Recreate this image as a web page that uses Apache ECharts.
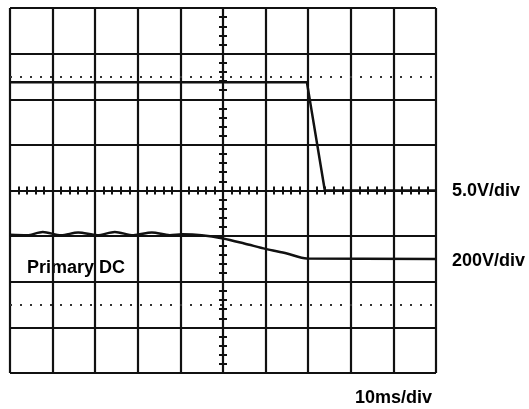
<!DOCTYPE html>
<html>
<head>
<meta charset="utf-8">
<script src="https://cdn.jsdelivr.net/npm/echarts@6/dist/echarts.min.js"></script>
<style>
html,body{margin:0;padding:0;background:#fff;}
#c{width:529px;height:409px;}
</style>
</head>
<body>
<div id="c"></div>
<script>
// Positions in divisions (x: -5..5, y: -4..4)
const ch1X = [-5, 1.97, 2.39, 5];
const ch1Y = [2.37, 2.37, 0.0, 0.0];
const ch2X = [-5, -4.6, -4.23, -3.8, -3.4, -2.95, -2.54, -2.1, -1.67, -1.25, -0.95, -0.5, 0, 0.5, 1, 1.5, 1.97, 5];
const ch2Y = [-0.97, -0.98, -0.91, -0.98, -0.92, -0.98, -0.91, -0.98, -0.92, -0.98, -0.96, -0.98, -1.05, -1.16, -1.28, -1.38, -1.49, -1.5];
const dottedLevels = [2.5, -2.5];
const ch1Label = '5.0V/div';
const ch2Label = '200V/div';
const timeLabel = '10ms/div';
const traceLabel = 'Primary DC';

const chart = echarts.init(document.getElementById('c'), null, {renderer: 'canvas'});
const axisCommon = {
  type: 'value',
  axisLabel: {show: false},
  axisLine: {show: true, onZero: true, lineStyle: {color: '#111', width: 2}},
  axisTick: {show: true, length: 4, lineStyle: {color: '#111', width: 2}},
  minorTick: {show: true, splitNumber: 5, length: 4, lineStyle: {color: '#111', width: 2}},
  minorSplitLine: {show: false}
};
const font = 'bold 18px "Liberation Sans", Arial, sans-serif';
chart.setOption({
  backgroundColor: '#fff',
  animation: false,
  grid: {left: 10, top: 8, width: 426, height: 365, show: false},
  xAxis: [
    Object.assign({}, axisCommon, {min: -5, max: 5, interval: 1, position: 'bottom',
      splitLine: {show: true, lineStyle: {color: '#111', width: 2.2}}}),
    Object.assign({}, axisCommon, {min: -5, max: 5, interval: 1, position: 'top',
      splitLine: {show: false}})
  ],
  yAxis: [
    Object.assign({}, axisCommon, {min: -4, max: 4, interval: 1, position: 'left',
      splitLine: {show: true, lineStyle: {color: '#111', width: 2.2}}}),
    Object.assign({}, axisCommon, {min: -4, max: 4, interval: 1, position: 'right',
      splitLine: {show: false}})
  ],
  series: [
    {
      type: 'line', xAxisIndex: 0, yAxisIndex: 0, symbol: 'none',
      data: ch1X.map((x, i) => [x, ch1Y[i]]),
      lineStyle: {color: '#111', width: 2.5},
      markLine: {
        silent: true, symbol: 'none', label: {show: false},
        lineStyle: {color: '#333', width: 2, type: [2, 8]},
        data: dottedLevels.map(v => ({yAxis: v}))
      }
    },
    {
      type: 'line', xAxisIndex: 0, yAxisIndex: 0, symbol: 'none', smooth: 0.3,
      data: ch2X.map((x, i) => [x, ch2Y[i]]),
      lineStyle: {color: '#111', width: 2.5}
    }
  ],
  graphic: [
    {type: 'text', left: 27, top: 259, style: {text: traceLabel, font: font, fill: '#000'}},
    {type: 'text', left: 452, top: 182, style: {text: ch1Label, font: font, fill: '#000'}},
    {type: 'text', left: 452, top: 252, style: {text: ch2Label, font: font, fill: '#000'}},
    {type: 'text', left: 355, top: 389, style: {text: timeLabel, font: font, fill: '#000'}}
  ]
});
</script>
</body>
</html>
